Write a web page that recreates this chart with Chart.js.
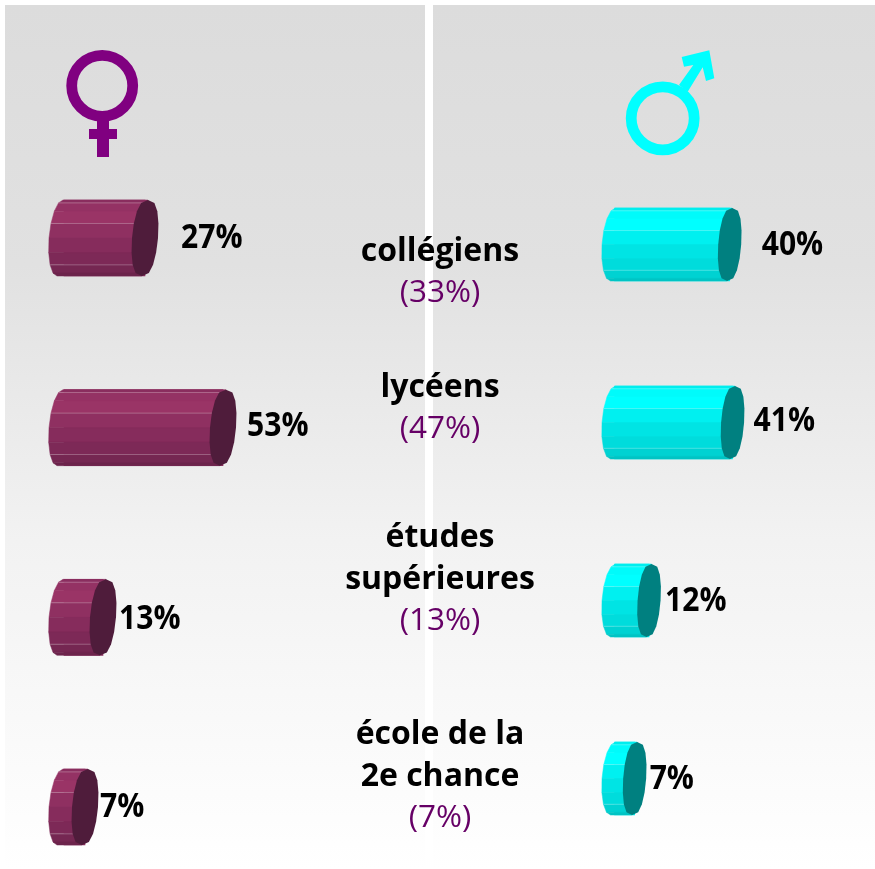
<!DOCTYPE html>
<html lang="fr"><head><meta charset="utf-8">
<style>
html,body{margin:0;padding:0;background:#fff;overflow:hidden}
#stage{position:relative;width:875px;height:869px;overflow:hidden}
.panel{position:absolute;top:5px;height:864px;background:linear-gradient(to bottom,#dcdcdc 0%,#e1e1e1 30%,#f2f2f2 62%,#ffffff 100%)}
canvas{position:absolute;left:0;top:0}
</style>
<script src="https://cdn.jsdelivr.net/npm/chart.js@4/dist/chart.umd.min.js"></script>
</head><body>
<div id="stage">
<div class="panel" style="left:5px;width:420px"></div>
<div class="panel" style="left:433px;width:442px"></div>
<canvas id="f" width="875" height="869"></canvas>
<canvas id="m" width="875" height="869"></canvas>
</div>
<script>
const categories = [["collégiens"],["lycéens"],["études","supérieures"],["école de la","2e chance"]];
const totals = [33,47,13,7];
const femaleValues = [27,53,13,7];
const maleValues = [40,41,12,7];

const W = 875, H = 869;
const WORD_FONT = '700 32px "Open Sans"';
const VALUE_FONT = '700 34px "Open Sans"';
const VALUE_SQUEEZE = 0.885;
const PCT_FONT = '400 31.5px "Open Sans"';
const femaleShades = ['#8a2e5f','#943264','#9a3466','#8f3061','#862c5c','#7d2957','#752752','#6c244c'];
const maleShades = ['#00eeee','#00fbfb','#00ffff','#00f0f0','#00e4e4','#00dcdc','#00d2d2','#00c4c4'];

function profile(cx, cy, rx, R, shear, pow){
  const pts=[];
  for(let i=0;i<=8;i++){
    const t=-Math.PI/2+i*Math.PI/8, s=Math.sin(t), c=Math.pow(Math.max(0,Math.cos(t)),pow);
    pts.push({y:cy+R*s,m:cx-shear*s,l:cx-rx*c-shear*s,r:cx+rx*c-shear*s});
  }
  return pts;
}
function cylinder(ctx, leftC, rightC, cy, R, o){
  const L=profile(leftC,cy,o.lrx,R,o.shear,1), P=profile(rightC,cy,o.rrx,R,o.shear,0.7);
  for(let i=0;i<8;i++){
    ctx.beginPath();
    ctx.moveTo(L[i].l,L[i].y);ctx.lineTo(P[i].m,P[i].y);ctx.lineTo(P[i+1].m,P[i+1].y);ctx.lineTo(L[i+1].l,L[i+1].y);
    ctx.closePath();ctx.fillStyle=o.shades[i];ctx.strokeStyle=o.shades[i];ctx.lineWidth=.5;ctx.fill();ctx.stroke();
    if(o.seams.includes(i)){
      ctx.beginPath();ctx.moveTo(L[i].l,L[i].y);ctx.lineTo(P[i].m,P[i].y);
      ctx.strokeStyle='rgba(255,255,255,.28)';ctx.lineWidth=1;ctx.stroke();
    }
  }
  ctx.beginPath();
  P.forEach((p,i)=>i?ctx.lineTo(p.r,p.y):ctx.moveTo(p.r,p.y));
  for(let i=7;i>0;i--)ctx.lineTo(P[i].l,P[i].y);
  ctx.closePath();ctx.fillStyle=o.cap;ctx.fill();
}
function poly(ctx,pts,color){ctx.beginPath();pts.forEach((p,i)=>i?ctx.lineTo(p[0],p[1]):ctx.moveTo(p[0],p[1]));ctx.closePath();ctx.fillStyle=color;ctx.fill();}

function femaleSymbol(ctx){
  ctx.beginPath();ctx.arc(102.2,85.8,30.5,0,Math.PI*2);ctx.strokeStyle='#800080';ctx.lineWidth=10.8;ctx.stroke();
  ctx.fillStyle='#800080';ctx.fillRect(97,120,12,37);ctx.fillRect(89,129,28,10);
}
function maleSymbol(ctx){
  ctx.beginPath();ctx.arc(662.7,118.3,31.5,0,Math.PI*2);ctx.strokeStyle='#00ffff';ctx.lineWidth=10.8;ctx.stroke();
  poly(ctx,[[679,85],[693.3,65],[684,66.7],[681.7,57],[709.3,50.3],[714.3,78.3],[706,81],[702.7,67.3],[687.7,91.7]],'#00ffff');
}
function centerText(ctx){
  const ys=[251.5,387.5,537.5,734.5], gap=42;
  ctx.textAlign='center';ctx.textBaseline='middle';
  categories.forEach((lines,i)=>{
    let y=ys[i];
    ctx.fillStyle='#000';ctx.font=WORD_FONT;
    lines.forEach(t=>{ctx.fillText(t,440,y);y+=gap;});
    ctx.fillStyle='#660066';ctx.font=PCT_FONT;
    ctx.fillText('('+totals[i]+'%)',440,y);
  });
}
function makeChart(id, values, color, opt){
  return new Chart(document.getElementById(id),{
    type:'bar',
    data:{labels:categories.map(c=>c.join(' ')),datasets:[{data:values,backgroundColor:color,barThickness:opt.thick,clip:false}]},
    options:{
      indexAxis:'y',responsive:false,animation:false,
      layout:{padding:opt.padding},
      plugins:{legend:{display:false},tooltip:{enabled:false}},
      scales:{
        x:{display:false,min:0,max:opt.max},
        y:{display:false,offset:false}
      }
    },
    plugins:[{id:'cyl',afterDatasetsDraw(chart){
      const ctx=chart.ctx;
      ctx.save();
      chart.getDatasetMeta(0).data.forEach((el,i)=>{
        cylinder(ctx,el.base+opt.leftShift,el.x,el.y,opt.thick/2,opt);
      });
      ctx.restore();
      ctx.save();
      ctx.textAlign='left';ctx.textBaseline='middle';ctx.fillStyle='#000';ctx.font=VALUE_FONT;
      chart.getDatasetMeta(0).data.forEach((el,i)=>{
        ctx.save();
        ctx.translate(el.x+opt.labelDx[i],el.y+opt.labelDy[i]);
        ctx.scale(VALUE_SQUEEZE,1);
        ctx.fillText(values[i]+'%',0,0);
        ctx.restore();
      });
      opt.extra(ctx);
      ctx.restore();
    }}]
  });
}
makeChart('f',femaleValues,'#8a2e5f',{
  thick:76,max:100,padding:{left:64,right:W-364,top:238,bottom:H-807},
  leftShift:-4,lrx:11,rrx:13,shear:3,shades:femaleShades,seams:[1,3,6],cap:'#4f1c3b',
  labelDx:[36,24,16,15],labelDy:[0.5,-1.5,1.5,0.5],
  extra(ctx){femaleSymbol(ctx);centerText(ctx);}
});
makeChart('m',maleValues,'#00eeee',{
  thick:73,max:60,padding:{left:614.5,right:W-787.3,top:244.5,bottom:H-778.5},
  leftShift:-1.5,lrx:11,rrx:11.5,shear:2.5,shades:maleShades,seams:[1,3,6],cap:'#008080',
  labelDx:[32,21,16,15],labelDy:[1,-1,1,1],
  extra(ctx){maleSymbol(ctx);}
});
</script>
</body></html>
